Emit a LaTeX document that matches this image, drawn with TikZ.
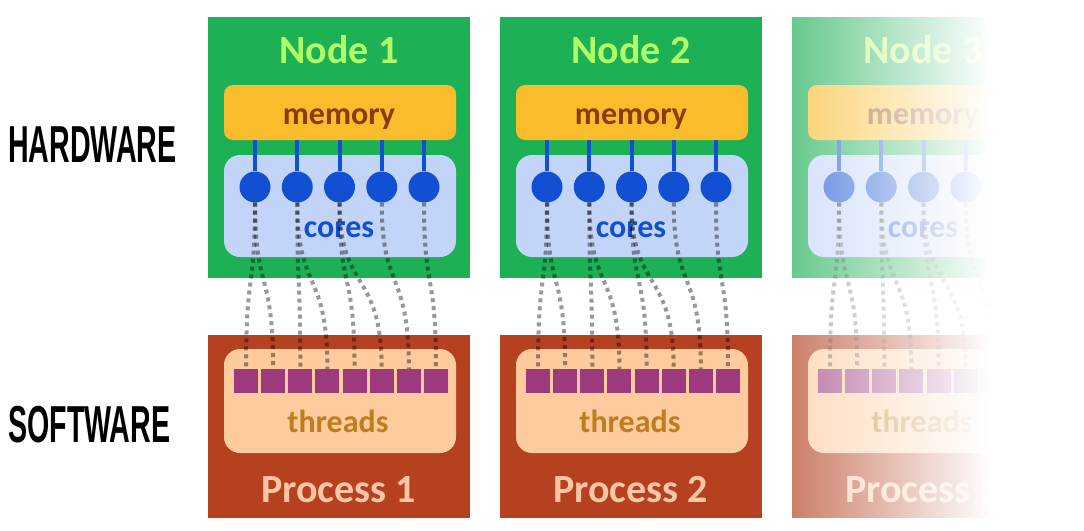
\documentclass[tikz,border=0pt]{standalone}
\usepackage{fontspec}
\setmainfont{Carlito}
\newfontfamily\sidefont{Liberation Sans}
\usetikzlibrary{positioning, fadings}

\definecolor{nodegreen}{HTML}{1DB055}
\definecolor{nodetitle}{HTML}{B0FF66}
\definecolor{memfill}{HTML}{FBBC2C}
\definecolor{memtext}{HTML}{8A3C10}
\definecolor{corefill}{HTML}{C2D5F8}
\definecolor{coredot}{HTML}{1150D2}
\definecolor{procred}{HTML}{B54120}
\definecolor{proctitle}{HTML}{FFC6A5}
\definecolor{thrfill}{HTML}{FDCB9E}
\definecolor{thrsq}{HTML}{9C3A7D}
\definecolor{thrtext}{HTML}{BF7E1C}

\tikzfading[name=fadetowhite, left color=transparent!68, middle color=transparent!18, right color=transparent!0]

\begin{document}
\begin{tikzpicture}[x=1pt, y=-1pt,
		  % Define the style of the hardware and software boxes
		  hwbox/.style={rectangle, fill=nodegreen, minimum width=262pt, minimum height=261pt},
		  swbox/.style={rectangle, fill=procred, minimum width=262pt, minimum height=183pt},
		  % Define the style of the inner rounded boxes
		  membox/.style={rectangle, rounded corners=9pt, fill=memfill, minimum width=232pt, minimum height=55pt},
		  corebox/.style={rectangle, rounded corners=16pt, fill=corefill, minimum width=232pt, minimum height=102pt},
		  thrbox/.style={rectangle, rounded corners=16pt, fill=thrfill, minimum width=232pt, minimum height=104pt},
		  % Define the style of the cores and threads
		  core/.style={circle, fill=coredot, minimum size=31pt, inner sep=0pt},
		  thread/.style={rectangle, fill=thrsq, minimum size=24pt, inner sep=0pt},
		  % Define the style of the connections
		  bus/.style={draw=coredot, line width=4pt},
		  wire/.style={draw=black, opacity=0.4, line width=4pt, dash pattern=on 4pt off 4pt},
		  % Define the style of the texts
		  title/.style={anchor=base, font=\fontsize{40}{40}\selectfont\bfseries},
		  boxlabel/.style={anchor=base, font=\fontsize{32}{32}\selectfont\bfseries},
		  sidelabel/.style={anchor=base west, inner sep=0pt, font=\sidefont\fontsize{52}{52}\selectfont\bfseries}
		  ]

		  \useasboundingbox (0,0) rectangle (1084,530);

		  % Side labels
		  \node[sidelabel] (hw) at (8,162) {\scalebox{0.55}[1]{HARDWARE}};
		  \node[sidelabel] (sw) at (8,442) {\scalebox{0.55}[1]{SOFTWARE}};

		  \foreach \n [evaluate=\n as \ox using {292*(\n-1)}] in {1, 2, 3} {
		    % Hardware node
		    \node[hwbox] (node\n) at (339+\ox, 147.5) {};
		    \node[title, text=nodetitle] (ntitle\n) at (339+\ox, 63) {Node \n};
		    \node[membox] (mem\n) at (340+\ox, 112.5) {};
		    \node[boxlabel, text=memtext] at (339+\ox, 124) {memory};
		    \node[corebox] (cores\n) at (340+\ox, 206) {};
		    \node[boxlabel, text=coredot] at (339+\ox, 237) {cores};
		    \foreach \c in {1, ..., 5} {
		      \node[core] (core\n-\c) at ({255+42.25*(\c-1)+\ox}, 187) {};
		      \draw[bus] (core\n-\c.north) -- (core\n-\c.north |- mem\n.south);
		    }

		    % Software process
		    \node[swbox] (proc\n) at (339+\ox, 426.5) {};
		    \node[thrbox] (thrs\n) at (340+\ox, 401) {};
		    \node[boxlabel, text=thrtext] at (338+\ox, 432) {threads};
		    \node[title, text=proctitle] (ptitle\n) at (338.5+\ox, 502) {Process \n};
		    \foreach \t in {1, ..., 8} {
		      \node[thread] (thr\n-\t) at ({246+27.14*(\t-1)+\ox}, 381) {};
		    }

		    % Connect cores to threads
		    \foreach \c/\t in {1/1, 1/2, 2/3, 2/4, 3/5, 3/6, 4/7, 5/8} {
		      \draw[wire] (core\n-\c.south) .. controls +(0,90) and +(0,-100) .. (thr\n-\t.north);
		    }
		  }

		  % Fade out the third node
		  \fill[white, path fading=fadetowhite] (790,10) rectangle (990,525);
		  \fill[white] (990,10) rectangle (1084,525);
		\end{tikzpicture}
\end{document}
